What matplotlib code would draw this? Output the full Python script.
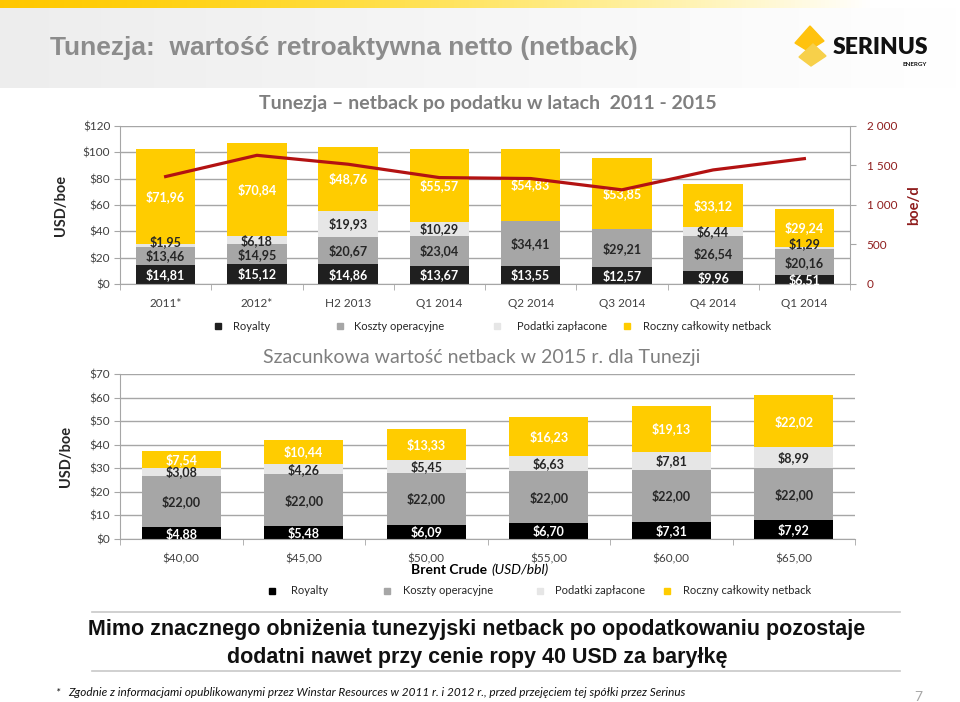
import numpy as np
import matplotlib
matplotlib.use("Agg")
import matplotlib.pyplot as plt
from matplotlib.patches import Rectangle, Polygon

plt.rcParams['font.family'] = ['Lato', 'DejaVu Sans']

# --- data: top chart (netback po podatku 2011-2015)
periods = ['2011*', '2012*', 'H2 2013', 'Q1 2014', 'Q2 2014', 'Q3 2014', 'Q4 2014', 'Q1 2014']
royalty_top = [14.81, 15.12, 14.86, 13.67, 13.55, 12.57, 9.96, 6.51]
opex_top = [13.46, 14.95, 20.67, 23.04, 34.41, 29.21, 26.54, 20.16]
taxes_top = [1.95, 6.18, 19.93, 10.29, 0.0, 0.0, 6.44, 1.29]
netback_top = [71.96, 70.84, 48.76, 55.57, 54.83, 53.85, 33.12, 29.24]
production = [1360, 1629, 1516, 1347, 1335, 1192, 1444, 1587]  # boe/d

# --- data: bottom chart (szacunkowy netback 2015)
brent = ['$40,00', '$45,00', '$50,00', '$55,00', '$60,00', '$65,00']
royalty_bot = [4.88, 5.48, 6.09, 6.70, 7.31, 7.92]
opex_bot = [22.00, 22.00, 22.00, 22.00, 22.00, 22.00]
taxes_bot = [3.08, 4.26, 5.45, 6.63, 7.81, 8.99]
netback_bot = [7.54, 10.44, 13.33, 16.23, 19.13, 22.02]

series_names = ['Royalty', 'Koszty operacyjne', 'Podatki zapłacone', 'Roczny całkowity netback']

C_ROY_TOP = '#1f1f1f'
C_ROY_BOT = '#000000'
C_OPEX = '#a6a6a6'
C_TAX = '#e6e6e6'
C_NET = '#ffcc00'
C_LINE = '#b31212'
C_RED_TXT = '#8f1d1d'
C_GRID = '#a6a6a6'
C_TXT = '#404040'
C_LBL = '#262626'
ARIAL = ['Liberation Sans', 'DejaVu Sans']

W, H = 960, 702
fig = plt.figure(figsize=(W / 100, H / 100), dpi=100)


def fx(x):
    return x / W


def fy(y):
    return 1 - y / H


def money(v):
    return ('$%.2f' % v).replace('.', ',')


# header background
hdr = fig.add_axes([0, fy(88), 1, 80 / H], zorder=-5)
g = np.linspace(0, 1, 256)
grad = np.ones((1, 256, 3))
for k in range(3):
    grad[0, :, k] = 0.93 + 0.07 * g
hdr.imshow(grad, aspect='auto', extent=[0, 1, 0, 1])
hdr.axis('off')
band = fig.add_axes([0, fy(8), 1, 8 / H], zorder=-4)
yel = np.ones((1, 256, 3))
yel[0, :, 1] = 0.78 + 0.22 * np.clip(g * 1.1, 0, 1)
yel[0, :, 2] = np.clip(g * 1.1, 0, 1) ** 1.5
band.imshow(yel, aspect='auto', extent=[0, 1, 0, 1])
band.axis('off')

fig.text(fx(50), fy(48), 'Tunezja:  wartość retroaktywna netto (netback)',
         family=ARIAL, weight='bold', fontsize=19, color='#8c8c8c', va='center', ha='left')

# logo
fig.patches.append(Polygon([[fx(810), fy(26)], [fx(824), fy(41)], [fx(808), fy(51)], [fx(795), fy(43)]],
                           closed=True, transform=fig.transFigure, color='#ffc20e', zorder=3))
fig.patches.append(Polygon([[fx(813), fy(44)], [fx(826), fy(56)], [fx(811), fy(66)], [fx(799), fy(57)]],
                           closed=True, transform=fig.transFigure, color='#f7d04a', zorder=3))
fig.text(fx(833), fy(47), 'SERINUS', weight='heavy', fontsize=16.5, color='#111111', va='center', ha='left')
fig.text(fx(927), fy(64), 'ENERGY', weight='bold', fontsize=4.5, color='#111111', va='center', ha='right')


def style_axes(ax, ymax, ystep, ncat):
    ax.set_xlim(-0.5, ncat - 0.5)
    ax.set_ylim(0, ymax)
    ax.set_yticks(np.arange(0, ymax + 0.1, ystep))
    ax.yaxis.set_major_formatter(matplotlib.ticker.FuncFormatter(lambda v, p: '$%d' % v))
    ax.set_xticks(np.arange(ncat))
    ax.set_xticks(np.arange(ncat + 1) - 0.5, minor=True)
    ax.tick_params(axis='x', which='major', length=0, pad=10, labelsize=8.5, labelcolor=C_TXT)
    ax.tick_params(axis='x', which='minor', length=4, color=C_GRID)
    ax.tick_params(axis='y', length=4, color=C_GRID, labelsize=8.5, labelcolor=C_TXT, pad=3)
    ax.grid(axis='y', color=C_GRID, linewidth=1)
    ax.set_axisbelow(True)
    for s in ['top', 'right']:
        ax.spines[s].set_visible(False)
    for s in ['left', 'bottom']:
        ax.spines[s].set_color(C_GRID)


def stacked(ax, roy, opex, tax, net, c_roy, width):
    x = np.arange(len(roy))
    stack = [(roy, c_roy, 'white'), (opex, C_OPEX, C_LBL), (tax, C_TAX, C_LBL), (net, C_NET, 'white')]
    bottom = np.zeros(len(roy))
    for vals, col, tcol in stack:
        vals = np.array(vals)
        ax.bar(x, vals, width, bottom=bottom, color=col, zorder=2)
        for xi, b, v in zip(x, bottom, vals):
            if v > 0:
                # thin segments: nudge the label up a little so it clears the one below
                dy = 3 if v < 2.5 else 0
                ax.annotate(money(v), (xi, b + v / 2), xytext=(0, dy), textcoords='offset points',
                            ha='center', va='center', color=tcol, fontsize=9, weight='bold', zorder=4)
        bottom = bottom + vals


def legend_row(items, y, c_roy):
    cols = [c_roy, C_OPEX, C_TAX, C_NET]
    for (xm, xt), col, name in zip(items, cols, series_names):
        fig.patches.append(Rectangle((fx(xm - 3), fy(y + 3)), 6 / W, 6 / H,
                                     transform=fig.transFigure, color=col))
        fig.text(fx(xt), fy(y), name, fontsize=8, color=C_LBL, va='center', ha='left')


# --- top chart
ax1 = fig.add_axes([fx(120), fy(284), 730 / W, 158 / H])
style_axes(ax1, 120, 20, len(periods))
ax1.set_xticklabels(periods)
stacked(ax1, royalty_top, opex_top, taxes_top, netback_top, C_ROY_TOP, 0.65)
ax1.set_ylabel('USD/boe', fontsize=10.5, weight='bold', color=C_LBL)
ax1.yaxis.set_label_coords(-0.071, 0.5)

ax2 = ax1.twinx()
ax2.set_ylim(0, 2000)
ax2.set_yticks([0, 500, 1000, 1500, 2000])
ax2.set_yticklabels(['0', '500', '1 000', '1 500', '2 000'])
ax2.plot(np.arange(len(periods)), production, color=C_LINE, linewidth=2.3, zorder=5)
ax2.tick_params(axis='y', length=4, color=C_GRID, labelsize=8.5, labelcolor=C_RED_TXT, pad=8)
for s in ['top', 'left', 'bottom']:
    ax2.spines[s].set_visible(False)
ax2.spines['right'].set_color(C_GRID)
ax2.set_ylabel('boe/d', fontsize=10.5, weight='bold', color=C_RED_TXT)
ax2.yaxis.set_label_coords(1.078, 0.5)

fig.text(fx(488), fy(103), 'Tunezja – netback po podatku w latach  2011 - 2015',
         fontsize=14, weight='bold', color='#7f7f7f', ha='center', va='center')
legend_row([(218, 233), (340, 354), (497, 517), (627, 643)], 326, C_ROY_TOP)

# --- bottom chart
ax3 = fig.add_axes([fx(120), fy(539), 735 / W, 165 / H])
style_axes(ax3, 70, 10, len(brent))
ax3.set_xticklabels(brent)
stacked(ax3, royalty_bot, opex_bot, taxes_bot, netback_bot, C_ROY_BOT, 0.645)
ax3.set_ylabel('USD/boe', fontsize=10.5, weight='bold', color=C_LBL)
ax3.yaxis.set_label_coords(-0.064, 0.5)

fig.text(fx(482), fy(357), 'Szacunkowa wartość netback w 2015 r. dla Tunezji',
         fontsize=14, color='#7f7f7f', ha='center', va='center')
fig.text(fx(487), fy(570), 'Brent Crude', fontsize=10, weight='bold', color='#000000', ha='right', va='center')
fig.text(fx(491), fy(570), '(USD/bbl)', fontsize=10, style='italic', color='#000000', ha='left', va='center')
legend_row([(272, 291), (387, 403), (540, 555), (667, 683)], 591, C_ROY_BOT)

# --- conclusion and footer
for yy in (612, 671):
    fig.add_artist(plt.Line2D([fx(92), fx(900)], [fy(yy), fy(yy)], color='#c8c8c8', linewidth=1.2,
                              transform=fig.transFigure))
fig.text(fx(477), fy(630), 'Mimo znacznego obniżenia tunezyjski netback po opodatkowaniu pozostaje',
         family=ARIAL, weight='bold', fontsize=15.5, color='#111111', ha='center', va='center')
fig.text(fx(477), fy(657), 'dodatni nawet przy cenie ropy 40 USD za baryłkę',
         family=ARIAL, weight='bold', fontsize=15.5, color='#111111', ha='center', va='center')
fig.text(fx(55), fy(693), '*', fontsize=8.5, style='italic', color='#111111', ha='left', va='center')
fig.text(fx(68), fy(693), 'Zgodnie z informacjami opublikowanymi przez Winstar Resources w 2011 r. i 2012 r., '
         'przed przejęciem tej spółki przez Serinus', fontsize=8.5, style='italic', color='#111111',
         ha='left', va='center')
fig.text(fx(918), fy(697), '7', fontsize=10, color='#a6a6a6', ha='center', va='center')

fig.savefig('out.png', dpi=100)
